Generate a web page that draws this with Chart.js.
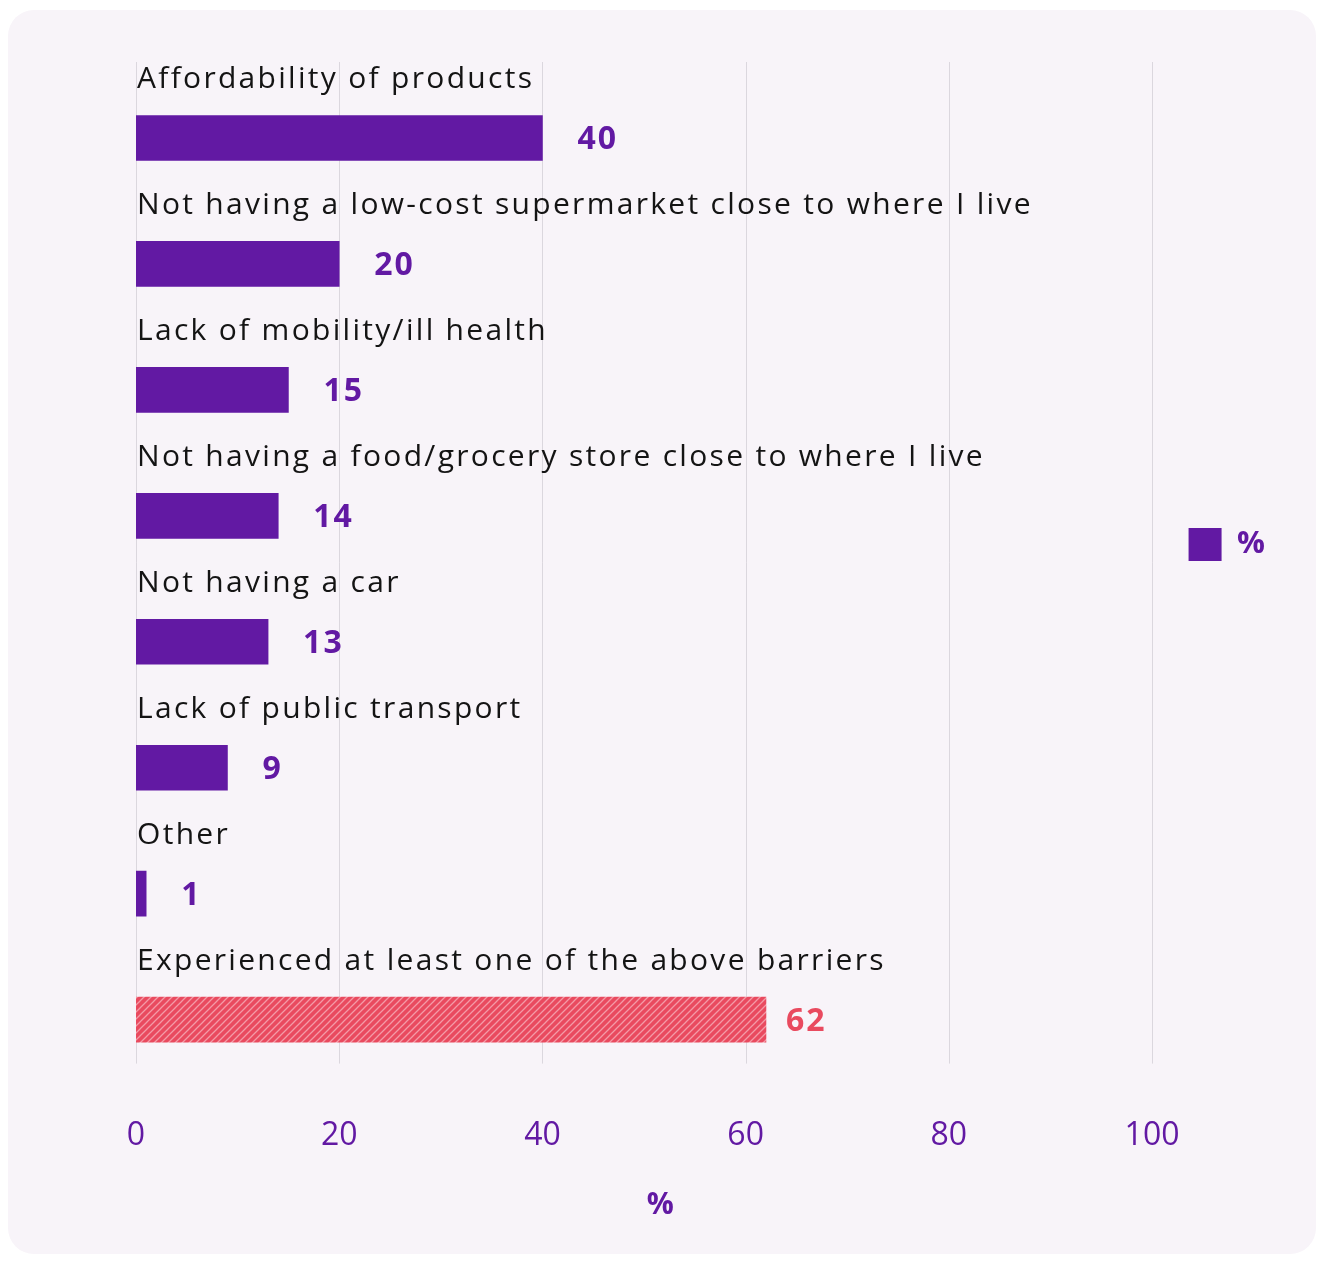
<!DOCTYPE html>
<html lang="en">
<head>
<meta charset="UTF-8">
<title>Barriers to buying food</title>
<script src="https://cdn.jsdelivr.net/npm/chart.js@4.4.1/dist/chart.umd.min.js"></script>
<style>
  body { margin: 0; background: #ffffff; }
  .tarjeta {
    position: absolute; left: 8px; top: 10px;
    width: 1308px; height: 1244px;
    border-radius: 26px; background: #f8f4f9;
  }
  #myChart { position: absolute; left: 0; top: 0; }
</style>
</head>
<body>
<div class="tarjeta"></div>
<canvas id="myChart" width="1324" height="1263"></canvas>
<script>
// Datos
const categorias = [
  'Affordability of products',
  'Not having a low-cost supermarket close to where I live',
  'Lack of mobility/ill health',
  'Not having a food/grocery store close to where I live',
  'Not having a car',
  'Lack of public transport',
  'Other',
  'Experienced at least one of the above barriers'
];
const valores = [40, 20, 15, 14, 13, 9, 1, 62];
const ticksX = [0, 20, 40, 60, 80, 100];
const etiquetaSerie = '%';
const indiceTotal = 7; // la ultima barra va rayada en rojo

const morado = '#6219a3';
const rojo = '#e94a5f';
const fuente = "'Open Sans', sans-serif";

const ctx = document.getElementById('myChart');

// patron rayado para la barra del total
function CrearRayado() {
  const tile = document.createElement('canvas');
  tile.width = 7;
  tile.height = 7;
  const c = tile.getContext('2d');
  c.fillStyle = rojo;
  c.fillRect(0, 0, 7, 7);
  c.strokeStyle = '#f49aa7';
  c.lineWidth = 1.3;
  c.beginPath();
  c.moveTo(-1, 8); c.lineTo(8, -1);
  c.moveTo(-1, 1); c.lineTo(1, -1);
  c.moveTo(6, 8); c.lineTo(8, 6);
  c.stroke();
  return ctx.getContext('2d').createPattern(tile, 'repeat');
}
const rayado = CrearRayado();

// lineas verticales de la rejilla, un poco mas arriba que el area
const rejilla = {
  id: 'rejilla',
  beforeDatasetsDraw(chart) {
    const { ctx, chartArea, scales: { x } } = chart;
    ctx.save();
    ctx.strokeStyle = '#dbd7de';
    ctx.lineWidth = 1;
    ticksX.forEach(v => {
      const px = Math.round(x.getPixelForValue(v)) + 0.5;
      ctx.beginPath();
      ctx.moveTo(px, chartArea.top - 13);
      ctx.lineTo(px, chartArea.bottom - 19);
      ctx.stroke();
    });
    ctx.restore();
  }
};

// nombre de la categoria encima de la barra y valor a la derecha
const etiquetas = {
  id: 'etiquetas',
  afterDatasetsDraw(chart) {
    const { ctx, chartArea } = chart;
    const barras = chart.getDatasetMeta(0).data;
    ctx.save();
    barras.forEach((barra, i) => {
      const arriba = barra.y - barra.height / 2;
      ctx.font = `400 30px ${fuente}`;
      ctx.letterSpacing = '2.3px';
      ctx.fillStyle = '#141414';
      ctx.textAlign = 'left';
      ctx.textBaseline = 'alphabetic';
      ctx.fillText(categorias[i], chartArea.left + 1, arriba - 27);

      const esTotal = i === indiceTotal;
      ctx.font = `700 32px ${fuente}`;
      ctx.letterSpacing = '2px';
      ctx.fillStyle = esTotal ? rojo : morado;
      ctx.textBaseline = 'middle';
      ctx.fillText(String(valores[i]), barra.x + (esTotal ? 20 : 35), barra.y + 2);
    });
    ctx.restore();
  }
};

const graficoBarreras = new Chart(ctx, {
  type: 'bar',
  data: {
    labels: categorias,
    datasets: [{
      label: etiquetaSerie,
      data: valores,
      backgroundColor: c => (c.type === 'data' && c.dataIndex === indiceTotal) ? rayado : morado,
      borderWidth: 0,
      barThickness: 45
    }]
  },
  options: {
    indexAxis: 'y',
    responsive: false,
    animation: false,
    layout: { padding: { left: 136, top: 75, right: 49, bottom: 36 } },
    scales: {
      x: {
        min: 0,
        max: 103.2,
        border: { display: false },
        grid: { display: false },
        afterBuildTicks: scale => { scale.ticks = ticksX.map(v => ({ value: v })); },
        ticks: {
          color: morado,
          padding: 26,
          font: { family: fuente, size: 32 }
        },
        title: {
          display: true,
          text: '%',
          color: morado,
          padding: { top: 6, bottom: 4 },
          font: { family: fuente, size: 30, weight: 'bold' }
        }
      },
      y: { display: false }
    },
    plugins: {
      legend: {
        position: 'right',
        align: 'start',
        // titulo vacio solo para bajar la leyenda a la mitad
        title: { display: true, text: '', padding: { top: 437, bottom: 0 }, font: { size: 10 } },
        labels: {
          boxWidth: 33,
          boxHeight: 33,
          padding: 4,
          color: morado,
          font: { family: fuente, size: 31, weight: 'bold' }
        }
      },
      tooltip: { enabled: false }
    }
  },
  plugins: [rejilla, etiquetas]
});
</script>
</body>
</html>
